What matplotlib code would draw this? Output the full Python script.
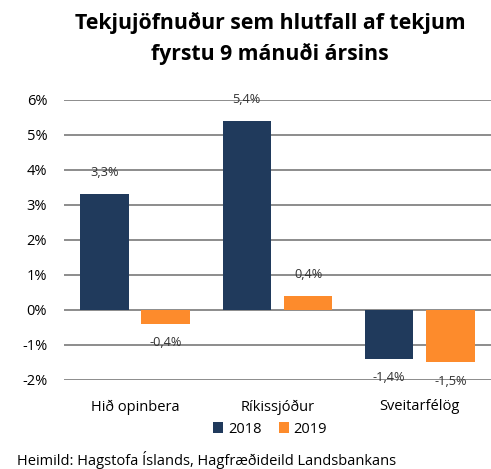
import numpy as np
import matplotlib.pyplot as plt

plt.rcParams['font.family'] = ['Open Sans', 'DejaVu Sans']

categories = ["Hið opinbera", "Ríkissjóður", "Sveitarfélög"]
series_names = ["2018", "2019"]
values_2018 = [3.3, 5.4, -1.4]
values_2019 = [-0.4, 0.4, -1.5]
yticks = [-2, -1, 0, 1, 2, 3, 4, 5, 6]

colors = ["#203a5c", "#fd8b2c"]

fig = plt.figure(figsize=(4.91, 4.69), dpi=100)
ax = fig.add_axes([0.13, 0.19, 0.87, 0.597])

x = np.arange(len(categories))
w = 0.34
off = 0.215
for i, (vals, name) in enumerate(zip([values_2018, values_2019], series_names)):
    pos = x + (i - 0.5) * 2 * off
    ax.bar(pos, vals, width=w, color=colors[i], label=name, zorder=3)
    for xp, v in zip(pos, vals):
        lbl = f"{v:.1f}%".replace(".", ",")
        if v >= 0:
            ax.annotate(lbl, (xp, v), xytext=(0, 11), textcoords="offset points",
                        ha="center", va="bottom", fontsize=9.2, color="#333333")
        else:
            ax.annotate(lbl, (xp, v), xytext=(0, -9), textcoords="offset points",
                        ha="center", va="top", fontsize=9.2, color="#333333")

ax.set_xlim(-0.5, 2.5)
ax.set_ylim(-2, 6)
ax.set_yticks(yticks)
ax.set_yticklabels([f"{t}%" for t in yticks], fontsize=10.5)
ax.set_xticks(x)
ax.set_xticklabels(categories, fontsize=10.5)
ax.tick_params(length=0, pad=12)
ax.tick_params(axis='x', pad=14)
ax.yaxis.grid(True, color="#8c8c8c", linewidth=1.4, zorder=0)
ax.set_axisbelow(True)
for s in ax.spines.values():
    s.set_visible(False)

fig.text(0.55, 0.975, "Tekjujöfnuður sem hlutfall af tekjum\nfyrstu 9 mánuði ársins",
         ha="center", va="top", fontsize=15.3, fontweight="bold", linespacing=1.55)

fig.legend(loc="center", bbox_to_anchor=(0.55, 0.085), ncol=2, frameon=False,
           fontsize=10.5, handlelength=0.7, handleheight=0.7, columnspacing=1.2,
           handletextpad=0.3)

fig.text(0.035, 0.0, "Heimild: Hagstofa Íslands, Hagfræðideild Landsbankans",
         ha="left", va="bottom", fontsize=10.5)

fig.savefig("out.png", dpi=100)
